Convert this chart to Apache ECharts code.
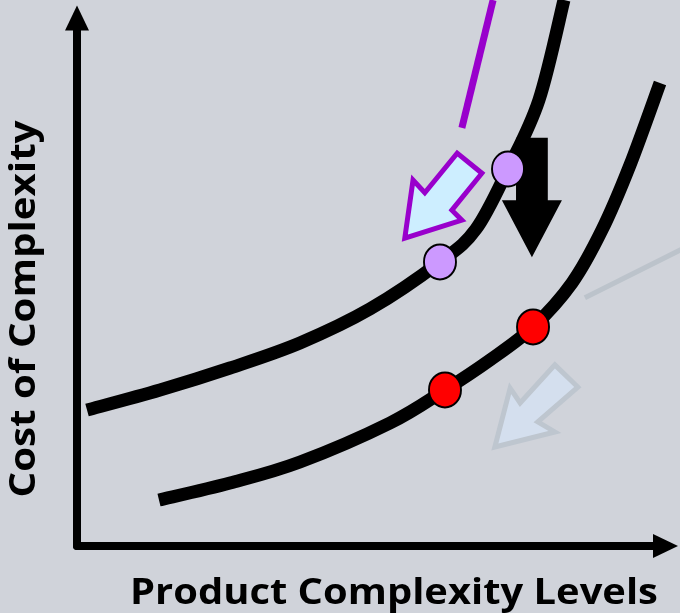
<!DOCTYPE html>
<html>
<head>
<meta charset="utf-8">
<script src="https://cdn.jsdelivr.net/npm/echarts@6/dist/echarts.min.js"></script>
<style>
  html, body { margin: 0; padding: 0; background: #d0d3da; }
  #chart { width: 680px; height: 613px; }
</style>
</head>
<body>
<div id="chart"></div>
<script>
// Cost curves: [complexity level, cost] in chart units (0-100 on both axes)
const highCostCurve = [
  [1.70, 25.76], [14.10, 29.55], [26.00, 33.71], [37.89, 38.45], [49.79, 44.89],
  [61.68, 53.79], [67.80, 60.04], [73.24, 71.40], [78.50, 84.47], [82.75, 103.41]
];
const lowCostCurve = [
  [13.93, 8.71], [26.00, 11.93], [37.89, 15.91], [53.19, 23.30], [62.53, 29.55],
  [70.18, 35.23], [77.49, 41.48], [84.11, 49.81], [89.21, 59.85], [93.97, 72.16], [99.07, 87.69]
];
// Operating points on each curve
const highCostPoints = [[61.68, 53.79], [73.24, 71.40]];
const lowCostPoints = [[62.53, 29.55], [77.49, 41.48]];

// Callout leader lines
const purpleLeader = [[70.7, 103.4], [65.4, 79.2]];
const grayLeader = [[86.3, 47.0], [104.0, 56.9]];

// Block arrows (outline vertices)
const shiftDownArrow = [[74.6, 77.3], [80.0, 77.3], [80.0, 65.5], [82.4, 65.5], [77.3, 54.7], [72.2, 65.5], [74.6, 65.5]];
const moveDownCurveArrow = [[64.6, 74.4], [68.8, 70.6], [63.7, 63.6], [65.4, 61.7], [55.7, 58.3], [57.1, 69.3], [59.1, 66.9]];
const fadedArrow = [[81.2, 34.3], [85.1, 30.1], [78.3, 23.5], [81.2, 21.6], [71.0, 18.75], [73.6, 29.9], [75.3, 27.1]];

const xTitle = 'Product Complexity Levels';
const yTitle = 'Cost of Complexity';

// Drawing list, back to front
const shapes = [
  { kind: 'line', pts: purpleLeader, stroke: '#9900cc', width: 7 },
  { kind: 'line', pts: grayLeader, stroke: '#bcc3cb', width: 5 },
  { kind: 'polygon', pts: fadedArrow, fill: '#d4dfee', stroke: '#bec6cf', width: 5 },
  { kind: 'polygon', pts: shiftDownArrow, fill: '#000000', stroke: null, width: 0 },
  { kind: 'polygon', pts: moveDownCurveArrow, fill: '#cdeeff', stroke: '#9900cc', width: 5 },
  { kind: 'curve', pts: highCostCurve, stroke: '#000000', width: 13 },
  { kind: 'curve', pts: lowCostCurve, stroke: '#000000', width: 13 }
];

// Smooth path through every point (Catmull-Rom segments as cubic Beziers)
function smoothPath(p) {
  let d = 'M' + p[0][0] + ',' + p[0][1];
  for (let i = 0; i < p.length - 1; i++) {
    const p0 = p[i - 1] || p[i], p1 = p[i], p2 = p[i + 1], p3 = p[i + 2] || p[i + 1];
    const c1 = [p1[0] + (p2[0] - p0[0]) / 6, p1[1] + (p2[1] - p0[1]) / 6];
    const c2 = [p2[0] - (p3[0] - p1[0]) / 6, p2[1] - (p3[1] - p1[1]) / 6];
    d += ' C' + c1[0] + ',' + c1[1] + ' ' + c2[0] + ',' + c2[1] + ' ' + p2[0] + ',' + p2[1];
  }
  return d;
}

const chart = echarts.init(document.getElementById('chart'));

const axisCommon = {
  type: 'value', min: 0, max: 100,
  axisLine: {
    show: true, onZero: false,
    symbol: ['none', 'triangle'], symbolSize: [24, 25],
    lineStyle: { color: '#000', width: 8 }
  },
  axisTick: { show: false }, axisLabel: { show: false }, splitLine: { show: false }
};

function dotSeries(data, color) {
  return {
    type: 'scatter', data: data, symbol: 'circle', symbolSize: [32, 35], clip: false, z: 10,
    itemStyle: { color: color, opacity: 1, borderColor: '#000', borderWidth: 2 }, silent: true
  };
}

const titleFont = 'bold 35px "Open Sans"';

chart.setOption({
  backgroundColor: '#d0d3da',
  animation: false,
  grid: { left: 77, right: 14.5, top: 18, bottom: 67 },
  xAxis: axisCommon,
  yAxis: axisCommon,
  series: [
    {
      type: 'custom', clip: false, z: 4, silent: true,
      data: shapes.map((_, i) => [i]),
      renderItem: function (params, api) {
        const s = shapes[params.dataIndex];
        const pts = s.pts.map(p => api.coord(p));
        if (s.kind === 'polygon') {
          return {
            type: 'polygon', shape: { points: pts },
            style: { fill: s.fill, stroke: s.stroke, lineWidth: s.width, lineJoin: 'miter' }
          };
        }
        if (s.kind === 'line') {
          return {
            type: 'polyline', shape: { points: pts },
            style: { fill: null, stroke: s.stroke, lineWidth: s.width, lineCap: 'butt' }
          };
        }
        return {
          type: 'path', shape: { pathData: smoothPath(pts) },
          style: { fill: 'none', stroke: s.stroke, lineWidth: s.width, lineCap: 'butt', lineJoin: 'round' }
        };
      }
    },
    dotSeries(highCostPoints, '#cc99ff'),
    dotSeries(lowCostPoints, '#ff0000')
  ],
  graphic: [
    {
      type: 'text', x: 394, y: 594, scaleX: 1.14, silent: true,
      style: { text: xTitle, fill: '#000', font: titleFont, align: 'center', verticalAlign: 'middle' }
    },
    {
      type: 'text', x: 25, y: 309, rotation: Math.PI / 2, scaleX: 1.15, silent: true,
      style: { text: yTitle, fill: '#000', font: titleFont, align: 'center', verticalAlign: 'middle' }
    }
  ]
});
</script>
</body>
</html>
